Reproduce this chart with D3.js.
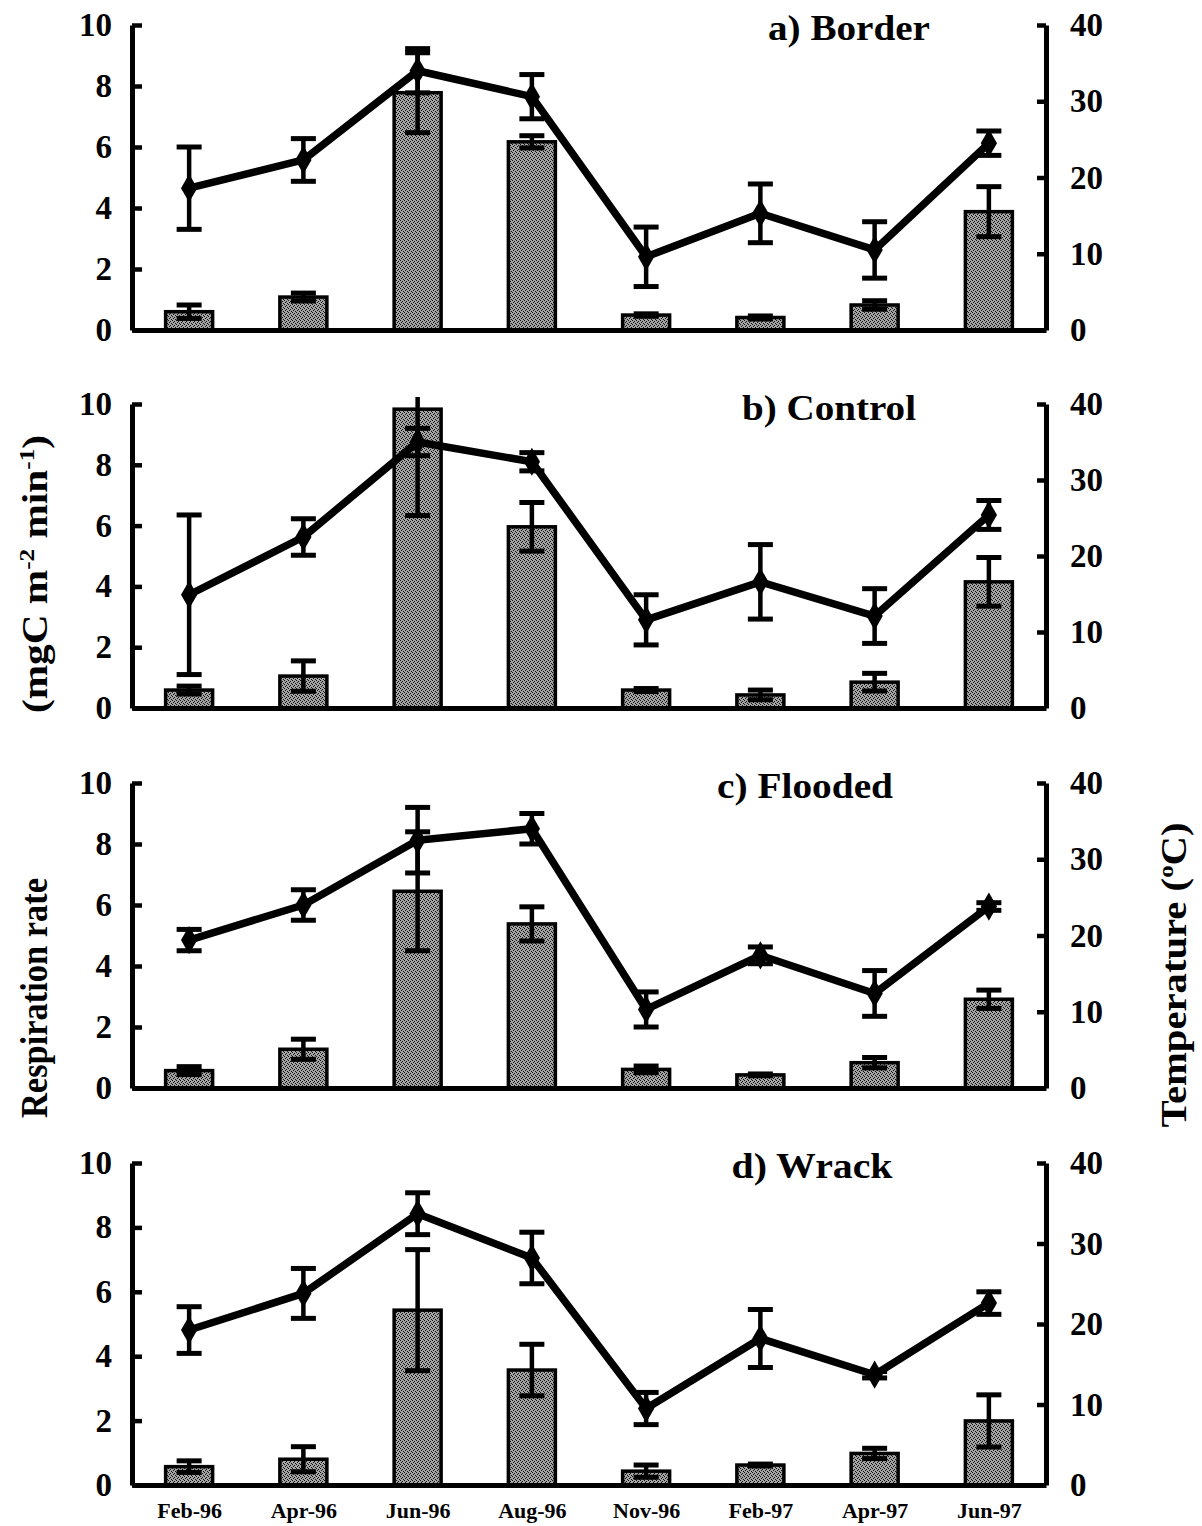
<!DOCTYPE html>
<html><head><meta charset="utf-8">
<script src="https://cdn.jsdelivr.net/npm/d3@7"></script>
<style>
html,body{margin:0;padding:0;background:#fff;}
svg text{font-family:"Liberation Serif","Times New Roman",serif;font-weight:bold;fill:#000;}
</style></head>
<body>
<svg id="chart" width="1202" height="1526"></svg>
<script>
// ---------- data ----------
const months = ["Feb-96","Apr-96","Jun-96","Aug-96","Nov-96","Feb-97","Apr-97","Jun-97"];
const panelTitles = ["a) Border","b) Control","c) Flooded","d) Wrack"];

const respBorder     = [0.60, 1.08, 7.78, 6.17, 0.49, 0.41, 0.82, 3.88];
const respBorderErr  = [0.22, 0.13, 1.31, 0.20, 0.04, 0.05, 0.14, 0.82];
const tempBorder     = [18.6, 22.3, 34.0, 30.6, 9.6, 15.3, 10.5, 24.5];
const tempBorderErr  = [5.4, 2.8, 2.9, 2.9, 3.9, 3.85, 3.7, 1.6];

const respControl    = [0.59, 1.05, 9.83, 5.96, 0.59, 0.43, 0.85, 4.15];
const respControlErr = [0.13, 0.50, 3.50, 0.80, 0.05, 0.16, 0.29, 0.80];
const tempControl    = [14.9, 22.5, 35.0, 32.4, 11.6, 16.6, 12.1, 25.4];
const tempControlErr = [10.5, 2.4, 1.8, 1.2, 3.3, 4.9, 3.6, 1.9];

const respFlooded    = [0.57, 1.27, 6.45, 5.38, 0.61, 0.43, 0.83, 2.91];
const respFloodedErr = [0.13, 0.33, 1.95, 0.56, 0.11, 0.03, 0.17, 0.30];
const tempFlooded    = [19.4, 24.0, 32.5, 34.0, 10.3, 17.4, 12.4, 23.8];
const tempFloodedErr = [1.4, 2.0, 4.3, 2.0, 2.3, 1.1, 3.0, 0.5];

const respWrack      = [0.57, 0.80, 5.43, 3.57, 0.43, 0.62, 0.98, 1.99];
const respWrackErr   = [0.18, 0.39, 1.88, 0.80, 0.19, 0.03, 0.16, 0.81];
const tempWrack      = [19.25, 23.8, 33.7, 28.2, 9.5, 18.2, 13.7, 22.6];
const tempWrackErr   = [2.9, 3.1, 2.6, 3.2, 2.0, 3.6, 0.4, 1.4];

const leftTicks  = [0, 2, 4, 6, 8, 10];
const rightTicks = [0, 10, 20, 30, 40];

// ---------- layout ----------
const xLeft = 132, xRight = 1046;
const panels = [
  {title: panelTitles[0], resp: respBorder,  respErr: respBorderErr,  temp: tempBorder,  tempErr: tempBorderErr,  top: 25,   bottom: 330,  tx: 849, ty: 40,   tw: 162},
  {title: panelTitles[1], resp: respControl, respErr: respControlErr, temp: tempControl, tempErr: tempControlErr, top: 404,  bottom: 708,  tx: 829, ty: 420,  tw: 174},
  {title: panelTitles[2], resp: respFlooded, respErr: respFloodedErr, temp: tempFlooded, tempErr: tempFloodedErr, top: 783,  bottom: 1088, tx: 805, ty: 798,  tw: 176},
  {title: panelTitles[3], resp: respWrack,   respErr: respWrackErr,   temp: tempWrack,   tempErr: tempWrackErr,   top: 1163, bottom: 1485, tx: 812, ty: 1178, tw: 161}
];

const svg = d3.select("#chart");
const defs = svg.append("defs");

// stipple pattern for bars
const pat = defs.append("pattern").attr("id","stipple").attr("patternUnits","userSpaceOnUse")
  .attr("width",4).attr("height",4);
pat.append("rect").attr("width",4).attr("height",4).attr("fill","#a4a4a4");
[[0,0],[2,1],[1,2],[3,3]].forEach(([a,b]) =>
  pat.append("rect").attr("x",a).attr("y",b).attr("width",1).attr("height",1).attr("fill","#111"));

const x = d3.scalePoint().domain(months).range([xLeft, xRight]).padding(0.5);
const barW = 47, capW = 25;

panels.forEach((p, pi) => {
  const g = svg.append("g");
  const yL = d3.scaleLinear().domain([0, 10]).range([p.bottom, p.top]);
  const yR = d3.scaleLinear().domain([0, 40]).range([p.bottom, p.top]);
  const data = months.map((m, i) => ({m, r: p.resp[i], re: p.respErr[i], t: p.temp[i], te: p.tempErr[i]}));

  const clipId = "clip" + pi;
  defs.append("clipPath").attr("id", clipId).append("rect")
    .attr("x", xLeft).attr("y", p.top - 7).attr("width", xRight - xLeft).attr("height", p.bottom - p.top + 7);

  // bars
  g.selectAll("rect.bar").data(data).join("rect").attr("class","bar")
    .attr("x", d => x(d.m) - barW/2).attr("width", barW)
    .attr("y", d => yL(d.r)).attr("height", d => yL(0) - yL(d.r))
    .attr("fill","url(#stipple)").attr("stroke","#000").attr("stroke-width",3.5);

  // bar error bars
  const be = g.append("g").attr("clip-path", `url(#${clipId})`);
  const beg = be.selectAll("g").data(data).join("g");
  beg.append("line").attr("x1", d => x(d.m)).attr("x2", d => x(d.m))
    .attr("y1", d => yL(d.r - d.re)).attr("y2", d => yL(d.r + d.re))
    .attr("stroke","#000").attr("stroke-width",4.5);
  [1, -1].forEach(s => beg.append("line")
    .attr("x1", d => x(d.m) - capW/2).attr("x2", d => x(d.m) + capW/2)
    .attr("y1", d => yL(d.r + s*d.re)).attr("y2", d => yL(d.r + s*d.re))
    .attr("stroke","#000").attr("stroke-width",5));

  // temperature line
  g.append("path").datum(data)
    .attr("d", d3.line().x(d => x(d.m)).y(d => yR(d.t)))
    .attr("fill","none").attr("stroke","#000").attr("stroke-width",7.5).attr("stroke-linejoin","round");

  // temperature error bars
  const te = g.append("g").selectAll("g").data(data).join("g");
  te.append("line").attr("x1", d => x(d.m)).attr("x2", d => x(d.m))
    .attr("y1", d => yR(d.t - d.te)).attr("y2", d => yR(d.t + d.te))
    .attr("stroke","#000").attr("stroke-width",4.5);
  [1, -1].forEach(s => te.append("line")
    .attr("x1", d => x(d.m) - capW/2).attr("x2", d => x(d.m) + capW/2)
    .attr("y1", d => yR(d.t + s*d.te)).attr("y2", d => yR(d.t + s*d.te))
    .attr("stroke","#000").attr("stroke-width",5));

  // diamond markers
  g.selectAll("path.mk").data(data).join("path").attr("class","mk")
    .attr("transform", d => `translate(${x(d.m)},${yR(d.t)})`)
    .attr("d", d3.symbol().type(d3.symbolDiamond).size(230))
    .attr("fill","#000");

  // axes
  const axL = g.append("g").attr("transform", `translate(${xLeft},0)`)
    .call(d3.axisLeft(yL).tickValues(leftTicks).tickSize(-10).tickSizeOuter(0).tickPadding(20));
  const axR = g.append("g").attr("transform", `translate(${xRight},0)`)
    .call(d3.axisRight(yR).tickValues(rightTicks).tickSize(-9).tickSizeOuter(0).tickPadding(24));
  const axB = g.append("g").attr("transform", `translate(0,${p.bottom})`)
    .call(d3.axisBottom(x).tickSize(0).tickSizeOuter(0).tickPadding(17)
      .tickFormat(pi === panels.length - 1 ? (d => d) : () => ""));
  [axL, axR, axB].forEach(a => {
    a.select(".domain").attr("stroke","#000").attr("stroke-width",5);
    a.selectAll(".tick line").attr("stroke","#000").attr("stroke-width",4.5);
  });
  axL.selectAll("text").attr("font-size", 33).attr("font-family", null);
  axR.selectAll("text").attr("font-size", 33).attr("font-family", null);
  axB.selectAll("text").attr("font-size", 22).attr("font-family", null);

  // title
  g.append("text").attr("x", p.tx).attr("y", p.ty).attr("text-anchor","middle")
    .attr("font-size", 35).attr("textLength", p.tw).attr("lengthAdjust","spacingAndGlyphs")
    .text(p.title);
});

// axis titles
const lab1 = svg.append("text").attr("transform","translate(47,574) rotate(-90)")
  .attr("text-anchor","middle").attr("font-size",36)
  .attr("textLength",278).attr("lengthAdjust","spacingAndGlyphs");
lab1.append("tspan").text("(mgC m");
lab1.append("tspan").attr("dy",-13).attr("font-size",22).text("-2");
lab1.append("tspan").attr("dy",13).text(" min");
lab1.append("tspan").attr("dy",-13).attr("font-size",22).text("-1");
lab1.append("tspan").attr("dy",13).text(")");

svg.append("text").attr("transform","translate(47,998) rotate(-90)")
  .attr("text-anchor","middle").attr("font-size",37).attr("textLength",240).attr("lengthAdjust","spacingAndGlyphs")
  .text("Respiration rate");

const lab3 = svg.append("text").attr("transform","translate(1186,975) rotate(-90)")
  .attr("text-anchor","middle").attr("font-size",36)
  .attr("textLength",305).attr("lengthAdjust","spacingAndGlyphs");
lab3.append("tspan").text("Temperature (");
lab3.append("tspan").attr("dy",-13).attr("font-size",22).text("o");
lab3.append("tspan").attr("dy",13).text("C)");
</script>
</body></html>
